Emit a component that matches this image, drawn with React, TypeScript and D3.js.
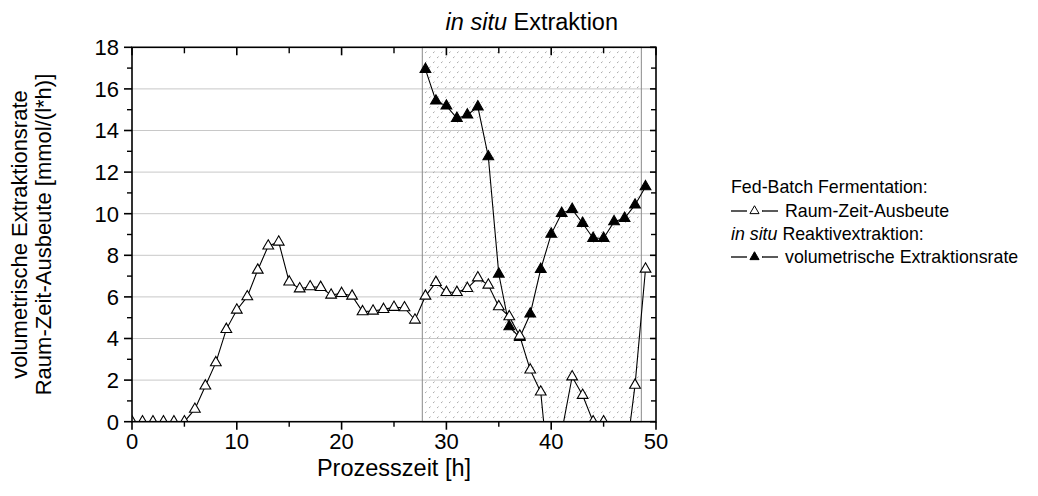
import React from "react";
import * as d3 from "d3";

// Process time [h] for every sample
const hours = [
  0, 1, 2, 3, 4, 5, 6, 7, 8, 9, 10, 11, 12, 13, 14, 15, 16, 17, 18, 19, 20, 21, 22, 23, 24,
  25, 26, 27, 28, 29, 30, 31, 32, 33, 34, 35, 36, 37, 38, 39, 40, 41, 42, 43, 44, 45, 46, 47,
  48, 49,
];

// Fed-batch fermentation: space-time yield [mmol/(l*h)]
const spaceTimeYield = [
  0, 0, 0, 0, 0, 0, 0.6, 1.72, 2.84, 4.44, 5.37, 6.01, 7.29, 8.45, 8.64, 6.72, 6.39, 6.49,
  6.46, 6.09, 6.17, 6.04, 5.29, 5.32, 5.4, 5.5, 5.48, 4.89, 6.04, 6.7, 6.22, 6.22, 6.41, 6.92,
  6.57, 5.53, 5.05, 4.12, 2.49, 1.43, -3.7, -0.5, 2.16, 1.27, 0, 0, -3, -2.2, 1.76, 7.34,
];

// In situ reactive extraction: volumetric extraction rate [mmol/(l*h)]
const extractionHours = [
  28, 29, 30, 31, 32, 33, 34, 35, 36, 37, 38, 39, 40, 41, 42, 43, 44, 45, 46, 47, 48, 49,
];
const extractionRate = [
  16.94, 15.42, 15.18, 14.59, 14.75, 15.14, 12.74, 7.1, 4.57, 4.05, 5.18, 7.33, 9.02, 10.02,
  10.21, 9.54, 8.82, 8.82, 9.62, 9.78, 10.42, 11.3,
];

// Extraction phase window [h]
const extractionWindow = [27.7, 48.6];

const xTicks = [0, 10, 20, 30, 40, 50];
const xMinor = [5, 15, 25, 35, 45];
const yTicks = [0, 2, 4, 6, 8, 10, 12, 14, 16, 18];
const yMinor = [1, 3, 5, 7, 9, 11, 13, 15, 17];
const gridValues = [2, 4, 6, 8, 10, 12, 14, 16];

const FONT = "'Liberation Sans', Arial, Helvetica, sans-serif";
const W = 1038;
const H = 496;

const x = d3.scaleLinear().domain([0, 50]).range([132, 656]);
const y = d3.scaleLinear().domain([0, 18]).range([421.7, 47.3]);

const tri = d3.symbol().type(d3.symbolTriangle).size(50)();
const triLegend = d3.symbol().type(d3.symbolTriangle).size(36)();

export default function App() {
  const [x0, x1] = x.range();
  const [yb, yt] = y.range();

  const yieldPts = hours.map((h, i) => [h, spaceTimeYield[i]] as [number, number]);
  const ratePts = extractionHours.map((h, i) => [h, extractionRate[i]] as [number, number]);

  const line = d3
    .line<[number, number]>()
    .x((d) => x(d[0]))
    .y((d) => y(d[1]));

  const legendX = 731;

  const legendKey = (cy: number, fill: string) => (
    <g>
      <line x1={legendX} x2={legendX + 16} y1={cy} y2={cy} stroke="#000" strokeWidth={1.3} />
      <line x1={legendX + 31} x2={legendX + 47} y1={cy} y2={cy} stroke="#000" strokeWidth={1.3} />
      <path d={triLegend} transform={`translate(${legendX + 23.5},${cy})`} fill={fill} stroke="#000" strokeWidth={1} />
    </g>
  );

  return (
    <div style={{ position: "absolute", left: 0, top: 0 }}>
      <svg width={W} height={H} style={{ display: "block", background: "#fff" }} fontFamily={FONT}>
        <defs>
          <clipPath id="plotClip">
            <rect x={x0} y={yt} width={x1 - x0} height={yb - yt} />
          </clipPath>
          <pattern id="stipple" width={8} height={10} patternUnits="userSpaceOnUse">
            <line x1={1} y1={3} x2={2.6} y2={1.6} stroke="#a0a0a0" strokeWidth={0.9} />
            <line x1={5} y1={8} x2={6.6} y2={6.6} stroke="#a0a0a0" strokeWidth={0.9} />
          </pattern>
        </defs>

        {/* horizontal grid */}
        {gridValues.map((v) => (
          <line key={"g" + v} x1={x0} x2={x1} y1={y(v)} y2={y(v)} stroke="#c8c8c8" strokeWidth={1} />
        ))}

        {/* extraction phase */}
        <rect
          x={x(extractionWindow[0])}
          y={yt}
          width={x(extractionWindow[1]) - x(extractionWindow[0])}
          height={yb - yt}
          fill="url(#stipple)"
          stroke="#8a8a8a"
          strokeWidth={1}
        />
        <text
          x={(x(extractionWindow[0]) + x(extractionWindow[1])) / 2}
          y={30}
          textAnchor="middle"
          fontSize={23.5}
          fill="#000"
        >
          <tspan fontStyle="italic">in situ</tspan> Extraktion
        </text>

        {/* series */}
        <g clipPath="url(#plotClip)">
          <path d={line(ratePts) || ""} fill="none" stroke="#000" strokeWidth={1.1} />
          {ratePts.map((d, i) => (
            <path
              key={"r" + i}
              d={tri}
              transform={`translate(${x(d[0])},${y(d[1])})`}
              fill="#000"
              stroke="#000"
              strokeWidth={1.1}
            />
          ))}
          <path d={line(yieldPts) || ""} fill="none" stroke="#000" strokeWidth={1.1} />
          {yieldPts.map((d, i) => (
            <path
              key={"y" + i}
              d={tri}
              transform={`translate(${x(d[0])},${y(d[1])})`}
              fill="#fff"
              stroke="#000"
              strokeWidth={1.1}
            />
          ))}
        </g>

        {/* frame */}
        <rect x={x0} y={yt} width={x1 - x0} height={yb - yt} fill="none" stroke="#000" strokeWidth={1.6} />

        {/* bottom axis: outward ticks; top mirror: inward ticks */}
        {xTicks.map((t) => (
          <g key={"xb" + t}>
            <line x1={x(t)} x2={x(t)} y1={yb} y2={yb + 8} stroke="#000" strokeWidth={1.6} />
            <line x1={x(t)} x2={x(t)} y1={yt} y2={yt + 8} stroke="#000" strokeWidth={1.6} />
            <text x={x(t)} y={449} textAnchor="middle" fontSize={22} fill="#000">
              {t}
            </text>
          </g>
        ))}
        {xMinor.map((t) => (
          <g key={"xm" + t}>
            <line x1={x(t)} x2={x(t)} y1={yb} y2={yb + 5} stroke="#000" strokeWidth={1.4} />
            <line x1={x(t)} x2={x(t)} y1={yt} y2={yt + 6} stroke="#000" strokeWidth={1.4} />
          </g>
        ))}

        {/* left axis: outward ticks; right mirror: inward ticks */}
        {yTicks.map((t) => (
          <g key={"yl" + t}>
            <line x1={x0 - 8} x2={x0} y1={y(t)} y2={y(t)} stroke="#000" strokeWidth={1.6} />
            <line x1={x1 - 6} x2={x1} y1={y(t)} y2={y(t)} stroke="#000" strokeWidth={1.6} />
            <text x={119} y={y(t)} dy="0.36em" textAnchor="end" fontSize={22} fill="#000">
              {t}
            </text>
          </g>
        ))}
        {yMinor.map((t) => (
          <g key={"ym" + t}>
            <line x1={x0 - 5} x2={x0} y1={y(t)} y2={y(t)} stroke="#000" strokeWidth={1.4} />
            <line x1={x1 - 5} x2={x1} y1={y(t)} y2={y(t)} stroke="#000" strokeWidth={1.4} />
          </g>
        ))}

        {/* axis titles */}
        <text x={(x0 + x1) / 2} y={476} textAnchor="middle" fontSize={23.5} fill="#000">
          Prozesszeit [h]
        </text>
        <g transform={`translate(27,${(yb + yt) / 2}) rotate(-90)`}>
          <text textAnchor="middle" fontSize={22} fill="#000">
            volumetrische Extraktionsrate
          </text>
        </g>
        <g transform={`translate(51,${(yb + yt) / 2}) rotate(-90)`}>
          <text textAnchor="middle" fontSize={22} fill="#000">
            Raum-Zeit-Ausbeute [mmol/(l*h)]
          </text>
        </g>

        {/* legend */}
        <g fontSize={17.8} fill="#000">
          <text x={legendX} y={193}>Fed-Batch Fermentation:</text>
          {legendKey(211, "#fff")}
          <text x={legendX + 54} y={217}>Raum-Zeit-Ausbeute</text>
          <text x={legendX} y={240}>
            <tspan fontStyle="italic">in situ</tspan> Reaktivextraktion:
          </text>
          {legendKey(257, "#000")}
          <text x={legendX + 54} y={263}>volumetrische Extraktionsrate</text>
        </g>
      </svg>
    </div>
  );
}
